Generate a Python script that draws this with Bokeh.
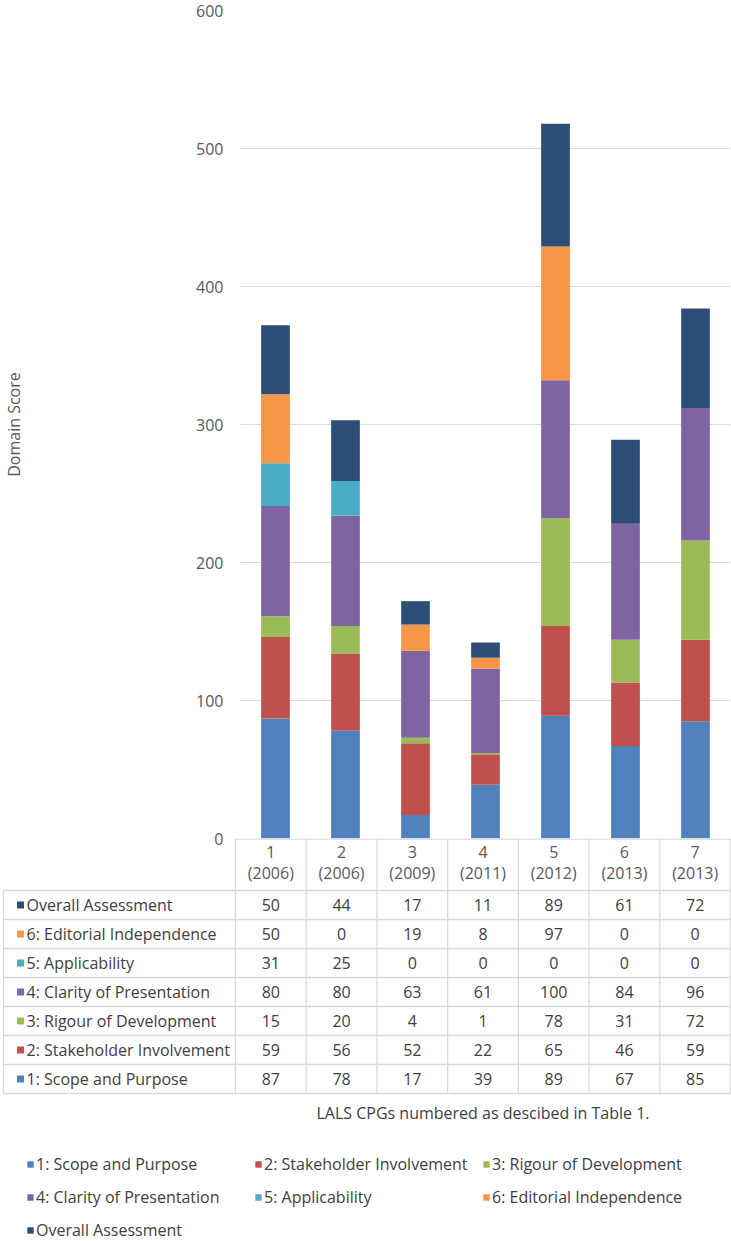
from bokeh.plotting import figure
from bokeh.models import (ColumnDataSource, FactorRange, Range1d, FixedTicker,
                          Legend, LegendItem)
from bokeh.layouts import column
from bokeh.embed import file_html
from bokeh.resources import INLINE
from bokeh.core.properties import value

# ---------------- data ----------------
cpg_ids = ["1", "2", "3", "4", "5", "6", "7"]
cpg_years = ["2006", "2006", "2009", "2011", "2012", "2013", "2013"]

series_names = [
    "1: Scope and Purpose",
    "2: Stakeholder Involvement",
    "3: Rigour of Development",
    "4: Clarity of Presentation",
    "5: Applicability",
    "6: Editorial Independence",
    "Overall Assessment",
]
scope = [87, 78, 17, 39, 89, 67, 85]
stakeholder = [59, 56, 52, 22, 65, 46, 59]
rigour = [15, 20, 4, 1, 78, 31, 72]
clarity = [80, 80, 63, 61, 100, 84, 96]
applicability = [31, 25, 0, 0, 0, 0, 0]
editorial = [50, 0, 19, 8, 97, 0, 0]
overall = [50, 44, 17, 11, 89, 61, 72]

series_colors = ["#4F81BD", "#C0504D", "#9BBB59", "#8064A2",
                 "#4BACC6", "#F79646", "#2C4D75"]
y_ticks = [0, 100, 200, 300, 400, 500, 600]
y_title = "Domain Score"
caption = "LALS CPGs numbered as descibed in Table 1."

FONT = "Open Sans"
TXT = "#404040"
AX = "#595959"
GRID = "#D9D9D9"

series_values = [scope, stakeholder, rigour, clarity, applicability, editorial, overall]
keys = ["s%d" % i for i in range(len(series_values))]

COL_PX = 495 / len(cpg_ids)          # width of one category column in px

# ---------------- chart ----------------
data = {"cpg": cpg_ids}
for k, v in zip(keys, series_values):
    data[k] = v
src = ColumnDataSource(data)

p = figure(width=731, height=850,
           x_range=FactorRange(factors=cpg_ids, range_padding=0),
           y_range=Range1d(0, 600),
           output_backend="svg", toolbar_location=None,
           min_border_left=235, min_border_right=1,
           min_border_top=10, min_border_bottom=12,
           frame_align=False)
p.vbar_stack(keys, x="cpg", width=0.41, color=series_colors,
             line_color=None, source=src)
p.xaxis.visible = False
p.xgrid.visible = False
p.ygrid.grid_line_color = GRID
p.ygrid.grid_line_width = 1
p.yaxis.ticker = FixedTicker(ticks=y_ticks)
p.yaxis.axis_line_color = None
p.yaxis.major_tick_line_color = None
p.yaxis.minor_tick_line_color = None
p.yaxis.major_tick_out = 0
p.yaxis.major_tick_in = 0
p.yaxis.major_label_standoff = 17
p.yaxis.major_label_text_font = FONT
p.yaxis.major_label_text_font_size = "16px"
p.yaxis.major_label_text_color = AX
p.yaxis.axis_label = y_title
p.yaxis.axis_label_text_font = FONT
p.yaxis.axis_label_text_font_size = "16px"
p.yaxis.axis_label_text_font_style = "normal"
p.yaxis.axis_label_text_color = AX
p.yaxis.axis_label_standoff = 168
p.outline_line_color = None

# ---------------- data table + legend ----------------
FRAME_LEFT_PAGE = 2
x_start = -(235 - FRAME_LEFT_PAGE) / COL_PX
x_end = len(cpg_ids) + 1 / COL_PX
ROW_PX = 29
y_top = (838 - 904.5) / ROW_PX
y_bot = (1241 - 904.5) / ROW_PX
header_top = -0.5 - 51.5 / ROW_PX
id_row = (851 - 904.5) / ROW_PX
year_row = (872 - 904.5) / ROW_PX
left_border = (3 - 235) / COL_PX
marker_x = (20 - 235) / COL_PX
label_x = (26 - 235) / COL_PX

t = figure(width=731, height=403,
           x_range=Range1d(x_start, x_end), y_range=Range1d(y_bot, y_top),
           x_axis_location=None, y_axis_location=None,
           output_backend="svg", toolbar_location=None,
           min_border_left=FRAME_LEFT_PAGE, min_border_right=0,
           min_border_top=0, min_border_bottom=0,
           margin=(-12, 0, 0, 0), frame_align=False)
t.grid.visible = False
t.outline_line_color = None
t.background_fill_color = None
t.border_fill_color = None

n_rows = len(series_names)
n_cols = len(cpg_ids)
col_centers = [i + 0.5 for i in range(n_cols)]

# grid lines of the table
hx0, hx1, hy = [], [], []
for k in range(n_rows + 1):
    hx0.append(left_border); hx1.append(n_cols); hy.append(k - 0.5)
hx0.append(0); hx1.append(n_cols); hy.append(header_top)
t.segment(x0=hx0, y0=hy, x1=hx1, y1=hy, line_color=GRID, line_width=1.3)
vx, vy0, vy1 = [], [], []
for c in range(n_cols + 1):
    vx.append(c); vy0.append(header_top); vy1.append(n_rows - 0.5)
vx.append(left_border); vy0.append(-0.5); vy1.append(n_rows - 0.5)
t.segment(x0=vx, y0=vy0, x1=vx, y1=vy1, line_color=GRID, line_width=1.3)

# header (category labels)
t.text(x=col_centers, y=[id_row] * n_cols, text=cpg_ids,
       text_font=value(FONT), text_font_size="16px", text_color=AX,
       text_align="center", text_baseline="middle")
t.text(x=col_centers, y=[year_row] * n_cols,
       text=["(%s)" % y for y in cpg_years],
       text_font=value(FONT), text_font_size="16px", text_color=AX,
       text_align="center", text_baseline="middle")

# rows: top row is the last series
legend_items = [None] * n_rows
for s_idx, (name, vals, col) in enumerate(zip(series_names, series_values, series_colors)):
    row = n_rows - 1 - s_idx
    r = t.rect(x=[marker_x], y=[row], width=7, height=7,
               width_units="screen", height_units="screen",
               fill_color=col, line_color=None)
    t.text(x=[label_x], y=[row], text=[name], text_font=value(FONT),
           text_font_size="16px", text_color=TXT, text_align="left",
           text_baseline="middle")
    t.text(x=col_centers, y=[row] * n_cols, text=[str(v) for v in vals],
           text_font=value(FONT), text_font_size="16px", text_color=TXT,
           text_align="center", text_baseline="middle")
    legend_items[s_idx] = LegendItem(label=name, renderers=[r])

# caption
t.text(x=[n_cols / 2], y=[(1112 - 904.5) / ROW_PX], text=[caption],
       text_font=value(FONT), text_font_size="16px", text_color=TXT,
       text_align="center", text_baseline="middle")

legend = Legend(items=legend_items, ncols=3, orientation="horizontal",
                location=(24, 0), glyph_width=8, glyph_height=8,
                label_standoff=2, label_width=207, label_height=22,
                spacing=11, padding=0, margin=0,
                border_line_color=None, background_fill_alpha=0,
                label_text_font=FONT, label_text_font_size="16px",
                label_text_color=TXT)
t.add_layout(legend)

root = column(p, t, spacing=0)
open("out.html", "w").write(file_html(root, INLINE))
